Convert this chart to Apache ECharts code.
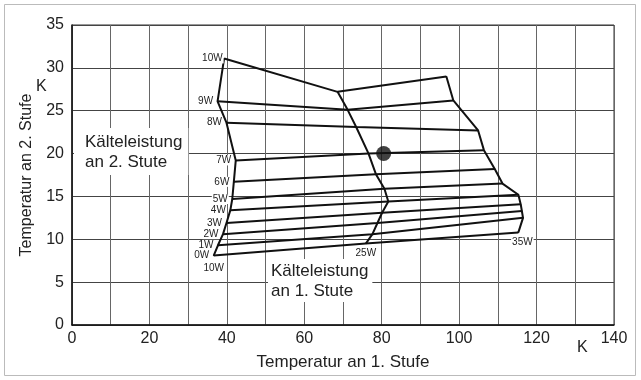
<!DOCTYPE html>
<html>
<head>
<meta charset="utf-8">
<script src="https://cdn.jsdelivr.net/npm/echarts@6/dist/echarts.min.js"></script>
<style>
html, body { margin: 0; padding: 0; background: #fff; }
#main { width: 641px; height: 380px; }
</style>
</head>
<body>
<div id="main"></div>
<script>
// Kälteleistung 2. Stufe, von unten nach oben
var stage2Names = ['0W', '1W', '2W', '3W', '4W', '5W', '6W', '7W', '8W', '9W', '10W'];
// Kälteleistung 1. Stufe der drei Randkurven (links, Mitte, rechts)
var stage1Names = ['10W', '25W', '35W'];
// Schnittpunkte [T1, T2] je Linie, Reihenfolge wie stage2Names
var left10 = [[36.6, 8.1], [37.7, 9.3], [39.0, 10.6], [39.9, 11.9], [40.9, 13.4], [41.4, 14.7],
    [41.8, 16.7], [42.3, 19.2], [39.9, 23.6], [37.6, 26.1], [39.3, 31.1]];
var mid25 = [[75.9, 9.5], [77.6, 10.6], [78.9, 11.9], [80.1, 13.1], [81.7, 14.4], [80.7, 15.9],
    [78.5, 17.6], [76.6, 20.0], [73.4, 23.1], [71.2, 25.1], [68.6, 27.2]];
var right35 = [[115.3, 10.8], [116.5, 12.5], [116.2, 13.3], [115.9, 14.1], [115.3, 15.2], [111.2, 16.5],
    [109.2, 18.2], [106.4, 20.4], [104.9, 22.7], [98.5, 26.2], [96.7, 29.0]];
// Betriebspunkt
var opPoint = [[80.5, 20.0]];
var xTicks = [0, 20, 40, 60, 80, 100, 120, 140];
var yTicks = [0, 5, 10, 15, 20, 25, 30, 35];

var FONT = '"Liberation Sans", Arial, sans-serif';
var INK = '#111';

var lblBase = {
    show: true,
    fontSize: 10,
    fontFamily: FONT,
    color: '#222',
    backgroundColor: '#fff',
    padding: [0, 1, 0, 1]
};

var series = [];

// Linien gleicher Leistung der 2. Stufe
stage2Names.forEach(function (name, i) {
    var lbl = Object.assign({}, lblBase, { formatter: name, position: 'left', distance: 3 });
    if (i == stage2Names.length - 1) {
        lbl.distance = 0;
        lbl.offset = [2, -5];
    }
    series.push({
        type: 'line',
        name: name,
        data: [{ value: left10[i], label: lbl }, mid25[i], right35[i]],
        symbol: 'circle',
        symbolSize: 1,
        showSymbol: true,
        itemStyle: { color: INK },
        lineStyle: { color: INK, width: 2 },
        labelLayout: { hideOverlap: false },
        z: 3,
        silent: true
    });
});

// Randkurven der 1. Stufe
[left10, mid25, right35].forEach(function (pts, k) {
    var lbl = Object.assign({}, lblBase, { formatter: stage1Names[k], position: 'bottom', distance: 4 });
    if (k == 0) lbl.offset = [0, 3];
    if (k == 1) lbl.distance = 4;
    if (k == 2) { lbl.distance = 4; lbl.offset = [4, 0]; }
    var d = pts.map(function (p, j) {
        return j == 0 ? { value: p, label: lbl } : p;
    });
    series.push({
        type: 'line',
        name: stage1Names[k],
        data: d,
        symbol: 'circle',
        symbolSize: 1,
        showSymbol: true,
        itemStyle: { color: INK },
        lineStyle: { color: INK, width: 2 },
        z: 3,
        silent: true
    });
});

series.push({
    type: 'scatter',
    data: opPoint,
    symbolSize: 15,
    itemStyle: { color: INK },
    z: 5
});

var myChart = echarts.init(document.getElementById('main'));
myChart.setOption({
    backgroundColor: '#fff',
    animation: false,
    grid: {
        left: 72, right: 27, top: 25, bottom: 55,
        show: true, borderColor: '#333', borderWidth: 1
    },
    xAxis: {
        type: 'value',
        min: 0, max: 140, interval: 10,
        name: 'Temperatur an 1. Stufe',
        nameLocation: 'middle',
        nameGap: 29,
        nameTextStyle: { fontSize: 17, fontFamily: FONT, color: '#222' },
        axisLine: { lineStyle: { color: INK, width: 1.5 } },
        axisTick: { show: false },
        axisLabel: {
            fontSize: 16, fontFamily: FONT, color: '#222', margin: 6,
            formatter: function (v) { return xTicks.indexOf(v) >= 0 ? String(v) : ''; }
        },
        splitLine: { show: true, lineStyle: { color: '#666', width: 1 } }
    },
    yAxis: {
        type: 'value',
        min: 0, max: 35, interval: 5,
        name: 'Temperatur an 2. Stufe',
        nameLocation: 'middle',
        nameGap: 37,
        nameTextStyle: { fontSize: 16, fontFamily: FONT, color: '#222' },
        axisLine: { show: true, lineStyle: { color: INK, width: 1.5 } },
        axisTick: { show: false },
        axisLabel: {
            fontSize: 16, fontFamily: FONT, color: '#222', margin: 8,
            formatter: function (v) { return yTicks.indexOf(v) >= 0 ? String(v) : ''; }
        },
        splitLine: { show: true, lineStyle: { color: '#444', width: 1 } }
    },
    graphic: [
        {
            type: 'rect', silent: true, z: -10,
            shape: { x: 4.5, y: 4.5, width: 631, height: 371 },
            style: { fill: 'none', stroke: '#bbb', lineWidth: 1 }
        },
        {
            type: 'text', x: 36, y: 79, z: 10,
            style: { text: 'K', fontSize: 16, fontFamily: FONT, fill: '#222' }
        },
        {
            type: 'text', x: 577, y: 340, z: 10,
            style: { text: 'K', fontSize: 16, fontFamily: FONT, fill: '#222' }
        },
        {
            type: 'text', x: 74, y: 128, z: 10,
            style: {
                text: 'Kälteleistung\nan 2. Stute', fontSize: 17, lineHeight: 20, fontFamily: FONT,
                fill: '#222', backgroundColor: '#fff', padding: [4, 6, 3, 11]
            }
        },
        {
            type: 'text', x: 268, y: 259, z: 10,
            style: {
                text: 'Kälteleistung\nan 1. Stute', fontSize: 17, lineHeight: 20, fontFamily: FONT,
                fill: '#222', backgroundColor: '#fff', padding: [2, 4, 1, 3]
            }
        }
    ],
    series: series
});
</script>
</body>
</html>
